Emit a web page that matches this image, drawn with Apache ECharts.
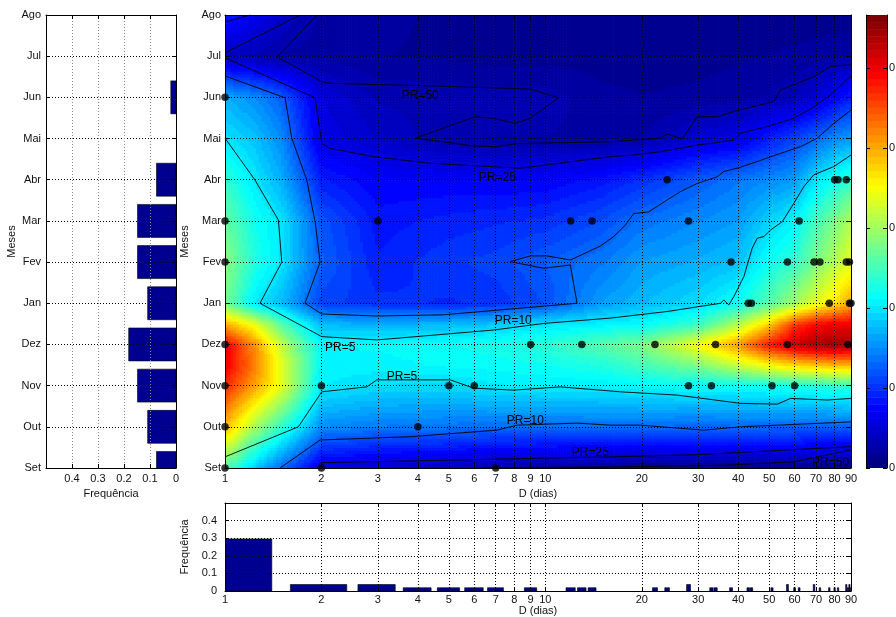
<!DOCTYPE html>
<html><head><meta charset="utf-8">
<script src="https://cdn.jsdelivr.net/npm/echarts@6/dist/echarts.min.js"></script>
<style>html,body{margin:0;padding:0;background:#fff}#c{width:896px;height:617px}</style>
</head><body><div id="c"></div>
<script>
// ---------- data ----------
const months = ['Set','Out','Nov','Dez','Jan','Fev','Mar','Abr','Mai','Jun','Jul','Ago'];
const monthFreq = [0.075,0.109,0.148,0.182,0.109,0.148,0.148,0.075,0,0.02,0,0];
const dTicks = [1,2,3,4,5,6,7,8,9,10,20,30,40,50,60,70,80,90];

const histD = [1,2,3,4,5,6,7,9,12,13,14,22,24,28,33,34,38,43,44,51,57,60,62,69,72,77,80,82,87,88,89,90];
const histF = [0.296,0.037,0.037,0.0185,0.0185,0.0185,0.0185,0.0185,0.0185,0.0185,0.0185,0.0185,0.0185,0.037,0.0185,0.0185,0.0185,0.0185,0.0185,0.0185,0.037,0.0185,0.0185,0.037,0.0185,0.0185,0.0185,0.0185,0.037,0.0185,0.037,0.0185];

const dotD = [1, 24,80,82,87, 1,3,12,14,28,62, 1,38,57,69,72,87,89, 43,44,77,89,90, 1,9,13,22,34,57,88, 1,2,5,6,28,33,51,60, 1,4, 1,2,7];
const dotM = [9, 7,7,7,7, 6,6,6,6,6,6, 5,5,5,5,5,5,5, 4,4,4,4,4, 3,3,3,3,3,3,3, 2,2,2,2,2,2,2,2, 1,1, 0,0,0];

// surface (rows = gridM, cols = gridD)
const gridD = [1,1.25,1.5,2,3,5,7,10,15,20,30,40,50,60,70,80,90];
const gridM = [0,1,2,2.5,3,3.5,4,5,6,7,8,9,10,11];
const field = [
 [0.13,0.09,0.065,0.028,0.022,0.018,0.013,0.01,0.008,0.006,0.005,0.005,0.005,0.004,0.004,0.004,0.004],
 [0.195,0.15,0.12,0.075,0.07,0.068,0.066,0.066,0.066,0.066,0.064,0.065,0.064,0.064,0.062,0.062,0.062],
 [0.235,0.2,0.17,0.102,0.097,0.096,0.101,0.102,0.103,0.105,0.107,0.108,0.11,0.112,0.115,0.118,0.12],
 [0.25,0.21,0.17,0.104,0.104,0.107,0.108,0.11,0.115,0.125,0.14,0.16,0.175,0.185,0.19,0.195,0.195],
 [0.25,0.205,0.16,0.106,0.107,0.11,0.113,0.118,0.13,0.14,0.175,0.205,0.24,0.26,0.27,0.272,0.268],
 [0.2,0.17,0.13,0.088,0.085,0.088,0.092,0.1,0.104,0.107,0.122,0.155,0.19,0.23,0.245,0.25,0.25],
 [0.14,0.1,0.088,0.055,0.05,0.048,0.05,0.058,0.08,0.088,0.097,0.11,0.13,0.15,0.17,0.185,0.2],
 [0.145,0.115,0.1,0.063,0.045,0.052,0.055,0.062,0.07,0.08,0.085,0.09,0.11,0.12,0.14,0.155,0.17],
 [0.135,0.11,0.1,0.06,0.042,0.046,0.048,0.05,0.058,0.068,0.075,0.08,0.095,0.105,0.125,0.14,0.155],
 [0.12,0.1,0.085,0.045,0.036,0.036,0.035,0.036,0.042,0.05,0.062,0.07,0.075,0.08,0.1,0.11,0.12],
 [0.1,0.09,0.075,0.03,0.022,0.014,0.013,0.013,0.012,0.013,0.025,0.03,0.045,0.055,0.065,0.075,0.08],
 [0.085,0.075,0.063,0.027,0.017,0.016,0.016,0.016,0.01,0.009,0.01,0.012,0.014,0.018,0.025,0.035,0.045],
 [0.02,0.016,0.012,0.012,0.009,0.008,0.007,0.007,0.007,0.007,0.007,0.008,0.009,0.01,0.011,0.012,0.013],
 [0.045,0.032,0.022,0.012,0.01,0.008,0.007,0.007,0.006,0.006,0.006,0.006,0.006,0.006,0.006,0.006,0.006]
];
const colorMax = 0.283;
const colorTicksStep = 0.05;

// contour lines, points as [D, month index]
const cornerA = [[1,10.83],[1.2,11]];
const cornerB = [[1,10.08],[1.716,11]];
const pr50Top = [[1.94,11],[1.454,9.98],[2.005,9.38],[2.13,9.34],[4.37,9.28],[8.97,9.2],[11.0,8.99],[8.97,8.49],[8.06,8.37],[6.89,8.49],[6.04,8.53],[3.93,8.01],[5.97,7.82],[7.06,7.8],[8.16,7.88],[15.96,7.92],[22.87,8.01],[24.0,8.11],[26.74,7.99],[29.79,8.53],[34.4,8.53],[39.72,8.68],[51.7,8.9],[54.2,9.18],[68.9,9.5],[77.7,9.75],[90,9.79]];
const pr25Top = [[1,9.96],[1.911,8.99],[2.005,7.88],[2.13,7.76],[2.907,7.56],[4.37,7.4],[8.35,7.28],[9.42,7.33],[15.96,7.56],[18.88,7.6],[22.87,7.68],[29.79,7.84],[38.76,7.96],[40.65,8.13],[49.3,8.29],[59.7,8.49],[68.9,8.77],[77.7,9.06],[90,9.52]];
const pr10Top = [[1,9.52],[1.54,8.99],[1.616,8.01],[1.8,6.99],[1.911,5.98],[1.981,5.0],[1.778,4.0],[2.005,3.74],[2.98,3.69],[4.81,3.72],[12.56,4.0],[11.97,4.93],[9.88,4.85],[7.78,5.01],[8.97,5.15],[10.12,5.15],[11.97,5.05],[14.86,5.39],[16.35,5.62],[17.78,5.9],[18.88,6.18],[21.03,6.22],[24.0,6.51],[26.41,6.71],[29.79,6.91],[34.4,7.07],[36.06,7.2],[39.72,7.28],[45.87,7.44],[54.2,7.64],[62.6,7.8],[70.6,8.01],[79.6,8.37],[90,8.69]];
const pr5Top = [[1,8.01],[1.241,6.99],[1.468,6.02],[1.504,5.0],[1.286,4.0],[2.005,3.19],[2.98,3.11],[6.89,3.35],[9.88,3.51],[15.96,3.64],[24.0,3.8],[35.24,4.0],[36.06,4.08],[37.4,3.96],[38.76,4.16],[41.67,4.65],[44.25,5.34],[45.87,5.58],[48.1,5.62],[50.5,5.78],[54.9,5.98],[59.7,6.43],[64.1,6.83],[68.9,7.12],[79.6,7.32],[90,7.6]];
const pr5Low = [[1,0.27],[1.694,1.0],[2.005,1.85],[2.77,1.97],[2.98,2.14],[5.05,2.14],[5.97,1.94],[7.96,1.89],[11.14,1.97],[17.15,1.85],[25.8,1.77],[40.65,1.57],[52.97,1.55],[58.3,1.69],[75.9,1.65],[90,1.69]];
const pr10Low = [[1.485,0],[1.981,0.68],[3.786,0.76],[7.06,0.92],[8.16,1.04],[12.56,1.09],[15.96,1.04],[19.81,1.04],[31.24,0.92],[40.65,1.0],[90,1.12]];
const pr25Low = [[1.935,0],[2.005,0.13],[3.786,0.17],[9.88,0.24],[15.96,0.27],[29.07,0.32],[90,0.52]];
const pr50Low = [[6.3,0],[18.0,0.03],[36.96,0.07],[59.7,0.15],[90,0.44]];
const contours = [cornerA, cornerB, pr50Top, pr25Top, pr10Top, pr5Top, pr5Low, pr10Low, pr25Low, pr50Low];

const labelText = ['PR=50','PR=25','PR=10','PR=5','PR=5','PR=10','PR=25','PR=50'];
const labelD = [4.07,7.08,7.94,2.29,3.57,8.66,13.82,77.7];
const labelM = [9.04,7.05,3.57,2.93,2.22,1.15,0.36,0.14];

// ---------- helpers ----------
const FONT = '"Liberation Sans", Arial, Helvetica, sans-serif';
const TXT = {fontFamily: FONT, fontSize: 11, color: '#111'};
const lg = Math.log10;
const logMax = lg(90);
const logTicks = dTicks.map(lg);
const dLabel = v => String(Math.round(Math.pow(10, v)));

function jetRGB(t){ const c = x => Math.max(0, Math.min(1, x));
  return [c(1.5-Math.abs(4*t-3)), c(1.5-Math.abs(4*t-2)), c(1.5-Math.abs(4*t-1))]; }
const JET = [];
for (let k = 0; k < 64; k++) { const r = jetRGB(k/63);
  JET.push('rgb(' + Math.round(r[0]*255) + ',' + Math.round(r[1]*255) + ',' + Math.round(r[2]*255) + ')'); }
function colorOf(v){ let k = Math.floor(v/colorMax*64); k = Math.max(0, Math.min(63, k)); return JET[k]; }

const dotted = {show: true, lineStyle: {color: '#000', width: 1, type: [1, 2]}};
const dottedGray = {show: true, lineStyle: {color: '#8a8a8a', width: 1, type: [1, 2]}};
const axLine = {show: true, onZero: false, lineStyle: {color: '#000', width: 1}};
const tickIn = (len, cv) => { const o = {show: true, inside: true, length: len, lineStyle: {color: '#000', width: 1}}; if (cv) o.customValues = cv; return o; };
const noLabel = {show: false};
const noSplit = {show: false};

const G = {show: false, containLabel: false, outerBoundsMode: 'none'};

const cells = [];
for (let j = 0; j < gridM.length - 1; j++) for (let i = 0; i < gridD.length - 1; i++) cells.push([i, j]);

function renderField(params, api){
  const i = api.value(0), j = api.value(1);
  const pa = api.coord([lg(gridD[i]), gridM[j]]);
  const pb = api.coord([lg(gridD[i+1]), gridM[j+1]]);
  const f00 = field[j][i], f10 = field[j][i+1], f01 = field[j+1][i], f11 = field[j+1][i+1];
  const w = pb[0] - pa[0], h = pb[1] - pa[1];
  const nx = Math.max(1, Math.ceil(Math.abs(w)/3)), ny = Math.max(1, Math.ceil(Math.abs(h)/3));
  const children = [];
  for (let a = 0; a < nx; a++) for (let b = 0; b < ny; b++) {
    const u = (a+0.5)/nx, v = (b+0.5)/ny;
    const val = (1-u)*(1-v)*f00 + u*(1-v)*f10 + (1-u)*v*f01 + u*v*f11;
    const x0 = pa[0] + w*a/nx, x1 = pa[0] + w*(a+1)/nx;
    const y0 = pa[1] + h*b/ny, y1 = pa[1] + h*(b+1)/ny;
    children.push({type: 'rect', shape: {x: Math.min(x0,x1), y: Math.min(y0,y1), width: Math.abs(x1-x0)+0.7, height: Math.abs(y1-y0)+0.7},
      style: {fill: colorOf(val)}});
  }
  return {type: 'group', children: children};
}

const series = [];
series.push({type: 'custom', xAxisIndex: 0, yAxisIndex: 0, data: cells, renderItem: renderField, clip: true, silent: true, z: 1});
contours.forEach(c => series.push({type: 'line', xAxisIndex: 0, yAxisIndex: 0, data: c.map(p => [lg(p[0]), p[1]]),
  symbol: 'none', lineStyle: {color: '#000', width: 0.9}, clip: true, silent: true, z: 5}));
series.push({type: 'custom', xAxisIndex: 0, yAxisIndex: 0, data: labelText.map((t, k) => [lg(labelD[k]), labelM[k]]), clip: false, z: 6, silent: true,
  renderItem: (params, api) => { const p = api.coord([api.value(0), api.value(1)]);
    return {type: 'text', x: p[0], y: p[1], style: {text: labelText[params.dataIndex], fill: '#000', font: '12px ' + FONT, align: 'center', verticalAlign: 'middle'}}; }});
series.push({type: 'scatter', xAxisIndex: 0, yAxisIndex: 0, data: dotD.map((d, k) => [lg(d), dotM[k]]), symbolSize: 7.5,
  itemStyle: {color: '#000'}, clip: false, z: 7, silent: true});
// left histogram (months)
series.push({type: 'custom', xAxisIndex: 2, yAxisIndex: 2, clip: true, z: 2, silent: true,
  data: monthFreq.map((f, m) => [m, f]).filter(d => d[1] > 0),
  renderItem: (params, api) => { const m = api.value(0), f = api.value(1);
    const p0 = api.coord([f, m + 0.4]), p1 = api.coord([0, m - 0.4]);
    return {type: 'rect', shape: {x: Math.min(p0[0],p1[0]), y: Math.min(p0[1],p1[1]), width: Math.abs(p1[0]-p0[0]), height: Math.abs(p1[1]-p0[1])},
      style: {fill: '#000090', stroke: '#000', lineWidth: 0.6}}; }});
// bottom histogram (D)
series.push({type: 'custom', xAxisIndex: 4, yAxisIndex: 4, clip: true, z: 2, silent: true,
  data: histD.map((d, k) => [d, histF[k]]),
  renderItem: (params, api) => { const d = api.value(0), f = api.value(1);
    const p0 = api.coord([lg(d - 0.4), f]), p1 = api.coord([lg(d + 0.4), 0]);
    return {type: 'rect', shape: {x: Math.min(p0[0],p1[0]), y: Math.min(p0[1],p1[1]), width: Math.abs(p1[0]-p0[0]), height: Math.abs(p1[1]-p0[1])},
      style: {fill: '#000090', stroke: '#000', lineWidth: 0.6}}; }});
// colorbar
series.push({type: 'custom', xAxisIndex: 6, yAxisIndex: 6, clip: true, z: 1, silent: true,
  data: JET.map((c, k) => [0.5, k]),
  renderItem: (params, api) => { const k = params.dataIndex;
    const p0 = api.coord([0, (k+1)*colorMax/64]), p1 = api.coord([1, k*colorMax/64]);
    return {type: 'rect', shape: {x: p0[0], y: p0[1], width: p1[0]-p0[0], height: p1[1]-p0[1] + 0.5}, style: {fill: JET[k]}}; }});

const nameStyle = {fontFamily: FONT, fontSize: 11, color: '#111'};

const option = {
  animation: false,
  backgroundColor: '#fff',
  textStyle: {fontFamily: FONT},
  grid: [
    Object.assign({left: 225, top: 15, width: 626, height: 453}, G),
    Object.assign({left: 46, top: 15, width: 130, height: 453}, G),
    Object.assign({left: 225, top: 503, width: 626, height: 88}, G),
    Object.assign({left: 866, top: 15, width: 21, height: 453}, G)
  ],
  xAxis: [
    {gridIndex: 0, type: 'value', min: 0, max: logMax, position: 'bottom', z: 4, axisLine: axLine, axisTick: tickIn(5, logTicks),
      axisLabel: Object.assign({customValues: logTicks, formatter: dLabel, margin: 5}, TXT), splitLine: dotted,
      name: 'D (dias)', nameLocation: 'middle', nameGap: 18, nameTextStyle: nameStyle},
    {gridIndex: 0, type: 'value', min: 0, max: logMax, position: 'top', z: 4, axisLine: axLine, axisTick: tickIn(5, logTicks), axisLabel: noLabel, splitLine: noSplit},
    {gridIndex: 1, type: 'value', min: 0, max: 0.5, interval: 0.1, inverse: true, position: 'bottom', z: 4, axisLine: axLine, axisTick: tickIn(4),
      axisLabel: Object.assign({margin: 5, showMaxLabel: false}, TXT), splitLine: dottedGray,
      name: 'Frequência', nameLocation: 'middle', nameGap: 18, nameTextStyle: nameStyle},
    {gridIndex: 1, type: 'value', min: 0, max: 0.5, interval: 0.1, inverse: true, position: 'top', z: 4, axisLine: axLine, axisTick: tickIn(4), axisLabel: noLabel, splitLine: noSplit},
    {gridIndex: 2, type: 'value', min: 0, max: logMax, position: 'bottom', z: 4, axisLine: axLine, axisTick: tickIn(4, logTicks),
      axisLabel: Object.assign({customValues: logTicks, formatter: dLabel, margin: 3}, TXT), splitLine: dotted,
      name: 'D (dias)', nameLocation: 'middle', nameGap: 14, nameTextStyle: nameStyle},
    {gridIndex: 2, type: 'value', min: 0, max: logMax, position: 'top', z: 4, axisLine: axLine, axisTick: tickIn(4, logTicks), axisLabel: noLabel, splitLine: noSplit},
    {gridIndex: 3, type: 'value', min: 0, max: 1, show: false}
  ],
  yAxis: [
    {gridIndex: 0, type: 'value', min: 0, max: 11, interval: 1, position: 'left', z: 4, axisLine: axLine, axisTick: tickIn(5),
      axisLabel: Object.assign({formatter: v => months[Math.round(v)], margin: 4}, TXT), splitLine: dotted,
      name: 'Meses', nameLocation: 'middle', nameGap: 26, nameRotate: 90, nameTextStyle: nameStyle},
    {gridIndex: 0, type: 'value', min: 0, max: 11, interval: 1, position: 'right', z: 4, axisLine: axLine, axisTick: tickIn(5), axisLabel: noLabel, splitLine: noSplit},
    {gridIndex: 1, type: 'value', min: 0, max: 11, interval: 1, position: 'left', z: 4, axisLine: axLine, axisTick: tickIn(4),
      axisLabel: Object.assign({formatter: v => months[Math.round(v)], margin: 5}, TXT), splitLine: dotted,
      name: 'Meses', nameLocation: 'middle', nameGap: 26, nameRotate: 90, nameTextStyle: nameStyle},
    {gridIndex: 1, type: 'value', min: 0, max: 11, interval: 1, position: 'right', z: 4, axisLine: axLine, axisTick: tickIn(4), axisLabel: noLabel, splitLine: noSplit},
    {gridIndex: 2, type: 'value', min: 0, max: 0.5, interval: 0.1, position: 'left', z: 4, axisLine: axLine, axisTick: tickIn(4),
      axisLabel: Object.assign({margin: 8, showMaxLabel: false}, TXT), splitLine: dotted,
      name: 'Frequência', nameLocation: 'middle', nameGap: 22, nameRotate: 90, nameTextStyle: nameStyle},
    {gridIndex: 2, type: 'value', min: 0, max: 0.5, interval: 0.1, position: 'right', z: 4, axisLine: axLine, axisTick: tickIn(4), axisLabel: noLabel, splitLine: noSplit},
    {gridIndex: 3, type: 'value', min: 0, max: colorMax, interval: colorTicksStep, position: 'right', z: 4, axisLine: axLine, axisTick: tickIn(4),
      axisLabel: Object.assign({margin: 2, showMaxLabel: false}, TXT), splitLine: noSplit},
    {gridIndex: 3, type: 'value', min: 0, max: colorMax, interval: colorTicksStep, position: 'left', z: 4, axisLine: axLine, axisTick: tickIn(4), axisLabel: noLabel, splitLine: noSplit}
  ],
  series: series
};

const chart = echarts.init(document.getElementById('c'), null, {renderer: 'canvas', width: 896, height: 617});
chart.setOption(option);
</script>
</body></html>
